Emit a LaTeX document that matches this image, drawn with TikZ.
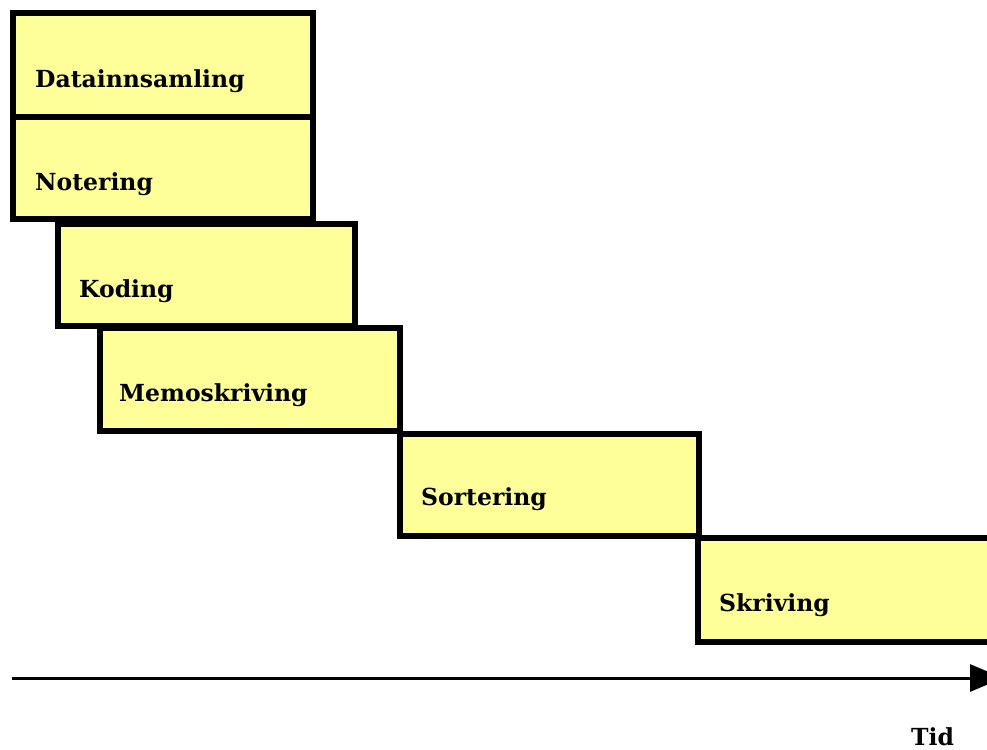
\documentclass[tikz,border=0pt]{standalone}
\usepackage{fontspec}
\setmainfont{DejaVu Serif}
\usetikzlibrary{calc,arrows.meta}
\definecolor{phasefill}{HTML}{FFFF99}
\tikzset{
  phase/.style={draw=black, fill=phasefill, line width=5.5pt, rectangle,
    anchor=north west, outer sep=0pt, inner sep=0pt},
  lbl/.style={anchor=base west, inner sep=0pt, font=\fontsize{23.5pt}{26pt}\selectfont\bfseries},
  timeline/.style={line width=3pt, -{Triangle[length=33pt,width=27pt]}}
}
\begin{document}
\begin{tikzpicture}[x=1pt,y=-1pt]
  \useasboundingbox (0,0) rectangle (987,749);
  \fill[white] (0,0) rectangle (987,749);
  \clip (0,0) rectangle (987,749);
  % phases, each one step later than the previous
  \node[phase, minimum width=300pt, minimum height=104pt] (b1) at (13,13) {};
  \node[phase, minimum width=300pt, minimum height=102pt] (b2) at (13,117) {};
  \node[phase, minimum width=297pt, minimum height=102pt] (b3) at (58,224) {};
  \node[phase, minimum width=300pt, minimum height=103pt] (b4) at (100,328) {};
  \node[phase, minimum width=299pt, minimum height=102pt] (b5) at (400,434) {};
  \node[phase, minimum width=300pt, minimum height=104pt] (b6) at (698,538) {};
  % labels
  \node[lbl] (t1) at ($(b1.north west)+(22,75)$) {Datainnsamling};
  \node[lbl] (t2) at ($(b2.north west)+(22,73)$) {Notering};
  \node[lbl] (t3) at ($(b3.north west)+(21,73)$) {Koding};
  \node[lbl] (t4) at ($(b4.north west)+(19,73)$) {Memoskriving};
  \node[lbl] (t5) at ($(b5.north west)+(21,71)$) {Sortering};
  \node[lbl] (t6) at ($(b6.north west)+(21,73)$) {Skriving};
  % time axis
  \coordinate (a0) at (12,678);
  \coordinate (a1) at (1003,678);
  \draw[timeline] (a0) -- (a1);
  \node[lbl] (tid) at (911,745) {Tid};
\end{tikzpicture}
\end{document}
